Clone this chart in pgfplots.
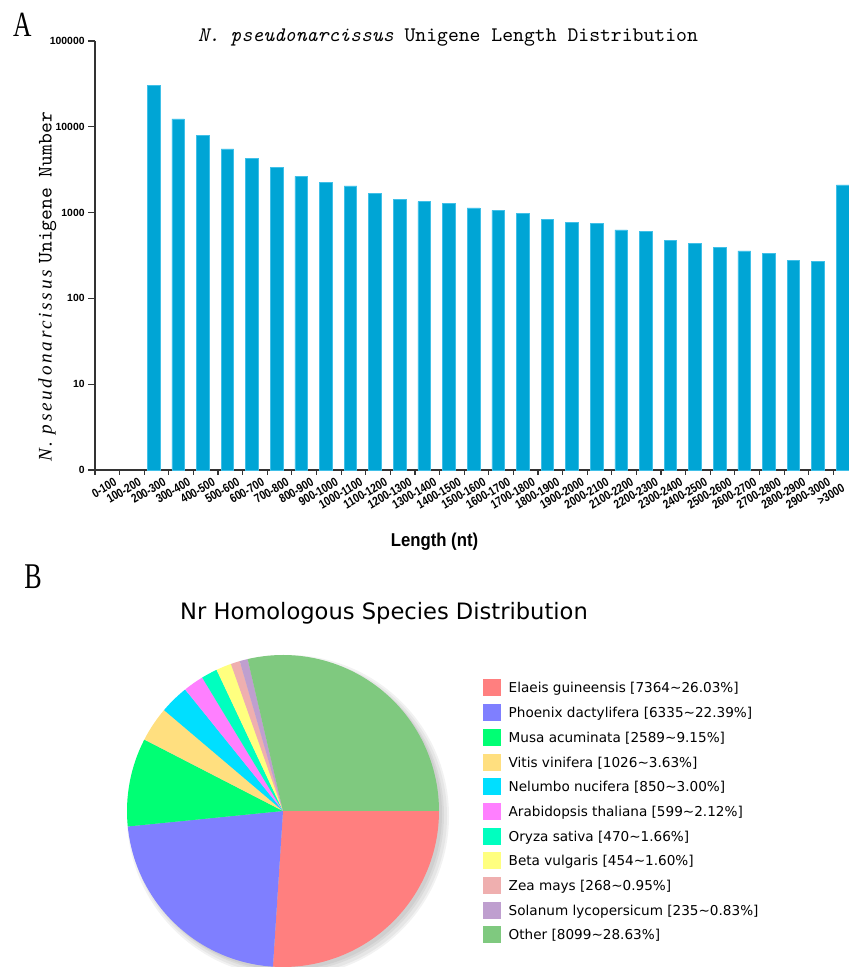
\documentclass[border=0pt]{standalone}
\usepackage{fontspec}
\usepackage{pgfplots}
\pgfplotsset{compat=1.18}
\newfontfamily\arial{Liberation Sans}
\newfontfamily\arialn{Liberation Sans}[FakeStretch=0.9]
\newfontfamily\arialnn{Liberation Sans}[FakeStretch=0.82]
\newfontfamily\dejavu{DejaVu Sans}
\newfontfamily\ylabit{Liberation Serif}[LetterSpace=14]
\newfontfamily\condserif{Liberation Serif}[FakeStretch=0.72]
\definecolor{barblue}{HTML}{00A5D5}
\definecolor{baredge}{HTML}{40C0E8}
\definecolor{c1}{HTML}{FF7F7F}
\definecolor{c2}{HTML}{7F7FFF}
\definecolor{c3}{HTML}{00FF74}
\definecolor{c4}{HTML}{FFDF7F}
\definecolor{c5}{HTML}{00DFFF}
\definecolor{c6}{HTML}{FF7FFF}
\definecolor{c7}{HTML}{00FFBF}
\definecolor{c8}{HTML}{FFFF7F}
\definecolor{c9}{HTML}{EFAFAF}
\definecolor{c10}{HTML}{BF9FCF}
\definecolor{c11}{HTML}{7FC97F}
% #1 = cumulative count before the slice, #2 = count, #3 = colour; total = 28289
\newcommand\pieslice[3]{%
  \edef\pietmp{\noexpand\fill[#3] (axis cs:0,0) -- ++({-\the\numexpr #1*3600/28289\relax/10}:78pt) arc[start angle={-\the\numexpr #1*3600/28289\relax/10}, delta angle={-\the\numexpr #2*3600/28289\relax/10}, radius=78pt] -- cycle;}%
  \pietmp}
\begin{document}
\begin{tikzpicture}
\useasboundingbox (0,0) rectangle (424pt,483.5pt);
% ---------- panel A ----------
\begin{axis}[
  at={(47.5pt,248.5pt)}, anchor=south west,
  scale only axis, width=376.5pt, height=214.5pt,
  ymode=log, ymin=1, ymax=100000,
  xmin=-0.38, xmax=30.217,
  axis lines=left, axis line style={-, line width=0.8pt, black!80},
  ytick={1,10,100,1000,10000,100000},
  yticklabels={0,10,100,1000,10000,100000},
  yminorticks=false,
  xtick={0,...,30},
  xticklabels={0-100,100-200,200-300,300-400,400-500,500-600,600-700,700-800,800-900,900-1000,1000-1100,1100-1200,1200-1300,1300-1400,1400-1500,1500-1600,1600-1700,1700-1800,1800-1900,1900-2000,2000-2100,2100-2200,2200-2300,2300-2400,2400-2500,2500-2600,2600-2700,2700-2800,2800-2900,2900-3000,{>3000\kern6pt}},
  minor xtick={-0.38,0.62,...,29.7},
  tick align=outside,
  major tick length=3.5pt,
  minor tick length=2.5pt,
  major x tick style={draw=none},
  tick style={line width=0.6pt, black!80},
  xticklabel style={xshift=4.5pt, rotate=30, anchor=north east, font=\arialnn\bfseries\fontsize{6.2}{6.5}\selectfont, inner sep=0pt},
  yticklabel style={font=\arial\bfseries\fontsize{5.2}{6}\selectfont, inner sep=1.5pt},
  ybar, bar width=6.3pt,
  clip=false,
]
\addplot[fill=barblue, draw=baredge, line width=0.3pt] coordinates {
(2,30100) (3,12330) (4,8020) (5,5510) (6,4250) (7,3370) (8,2650) (9,2255)
(10,2042) (11,1660) (12,1429) (13,1340) (14,1283) (15,1132) (16,1064) (17,981)
(18,835) (19,763) (20,742) (21,627) (22,599) (23,475) (24,439) (25,390)
(26,357) (27,335) (28,280) (29,268) (30,2098)};
\end{axis}
\node[anchor=base west, inner sep=0pt, font=\condserif\fontsize{17.7}{18}\selectfont] at (6.3pt,465.2pt) {A};
\node[anchor=base, inner sep=0pt, font=\ttfamily\fontsize{10.35}{12}\selectfont\addfontfeatures{FakeBold=1.2}] at (224pt,462.6pt) {{\itshape N.\ pseudonarcissus} Unigene Length Distribution};
\node[rotate=90, anchor=base, inner sep=0pt] at (25.85pt,340pt) {{\ylabit\itshape\fontsize{9.6}{11}\selectfont N. pseudonarcissus}\ {\ttfamily\fontsize{10.3}{12}\selectfont\addfontfeatures{FakeBold=1.2} Unigene Number}};
\node[anchor=base, inner sep=0pt, font=\arialn\bfseries\fontsize{9.3}{11}\selectfont] at (217.25pt,210.15pt) {Length (nt)};
% ---------- panel B ----------
\node[anchor=base west, inner sep=0pt, font=\condserif\fontsize{18.1}{18}\selectfont] at (12pt,189pt) {B};
\node[anchor=base, inner sep=0pt, font=\dejavu\fontsize{11.3}{13}\selectfont] at (192pt,173.5pt) {Nr Homologous Species Distribution};
\begin{axis}[
  at={(63.5pt,0pt)}, anchor=south west,
  scale only axis, width=156pt, height=156pt,
  xmin=-1, xmax=1, ymin=-1, ymax=1,
  hide axis, clip=false,
  legend image code/.code={\path[#1] (0pt,-4.25pt) rectangle (9pt,4.25pt);},
  legend cell align=left,
  legend style={at={(1.140,0.923)}, anchor=north west, draw=none, fill=none,
    inner sep=0pt, row sep=3.85pt, column sep=3.8pt,
    font=\dejavu\fontsize{6.8}{8}\selectfont,
    nodes={inner sep=0pt, text height=5.0pt, text depth=0pt, anchor=west}},
]
\fill[black, opacity=0.05] (axis cs:0,0) ++(2.5pt,-2.5pt) circle[radius=80.5pt];
\fill[black, opacity=0.05] (axis cs:0,0) ++(2.5pt,-2.5pt) circle[radius=79.5pt];
\fill[black, opacity=0.05] (axis cs:0,0) ++(2pt,-2pt) circle[radius=78.5pt];
\fill[black, opacity=0.05] (axis cs:0,0) ++(1.5pt,-1.5pt) circle[radius=78pt];
\pieslice{0}{7364}{c1}
\pieslice{7364}{6335}{c2}
\pieslice{13699}{2589}{c3}
\pieslice{16288}{1026}{c4}
\pieslice{17314}{850}{c5}
\pieslice{18164}{599}{c6}
\pieslice{18763}{470}{c7}
\pieslice{19233}{454}{c8}
\pieslice{19687}{268}{c9}
\pieslice{19955}{235}{c10}
\pieslice{20190}{8099}{c11}
\addlegendimage{fill=c1, draw=none}\addlegendentry{Elaeis guineensis [7364\textasciitilde 26.03\%]}
\addlegendimage{fill=c2, draw=none}\addlegendentry{Phoenix dactylifera [6335\textasciitilde 22.39\%]}
\addlegendimage{fill=c3, draw=none}\addlegendentry{Musa acuminata [2589\textasciitilde 9.15\%]}
\addlegendimage{fill=c4, draw=none}\addlegendentry{Vitis vinifera [1026\textasciitilde 3.63\%]}
\addlegendimage{fill=c5, draw=none}\addlegendentry{Nelumbo nucifera [850\textasciitilde 3.00\%]}
\addlegendimage{fill=c6, draw=none}\addlegendentry{Arabidopsis thaliana [599\textasciitilde 2.12\%]}
\addlegendimage{fill=c7, draw=none}\addlegendentry{Oryza sativa [470\textasciitilde 1.66\%]}
\addlegendimage{fill=c8, draw=none}\addlegendentry{Beta vulgaris [454\textasciitilde 1.60\%]}
\addlegendimage{fill=c9, draw=none}\addlegendentry{Zea mays [268\textasciitilde 0.95\%]}
\addlegendimage{fill=c10, draw=none}\addlegendentry{Solanum lycopersicum [235\textasciitilde 0.83\%]}
\addlegendimage{fill=c11, draw=none}\addlegendentry{Other [8099\textasciitilde 28.63\%]}
\end{axis}
\end{tikzpicture}
\end{document}
